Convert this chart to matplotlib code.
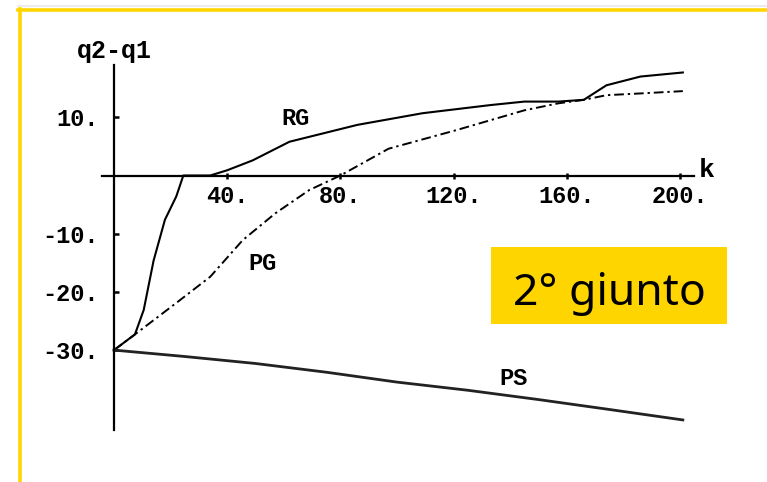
"""q2-q1 versus k for the RG, PG and PS schemes (2nd joint)"""

import matplotlib

matplotlib.use("Agg")
from matplotlib import pyplot as plt
from matplotlib.patches import Rectangle
from matplotlib.lines import Line2D

# curve samples: k -> q2-q1
k_rg = [0, 7.4, 10.5, 14, 18, 22, 24.5, 34, 40, 49, 62, 86, 109, 133, 145, 157, 166, 174, 186, 201]
q_rg = [-30, -27.3, -23.1, -14.6, -7.6, -3.6, 0, 0, 0.9, 2.6, 5.8, 8.7, 10.7, 12.1, 12.7, 12.7, 13.0, 15.5, 17.0, 17.7]

k_pg = [0, 7.4, 22, 34, 45.5, 57, 69, 80, 97, 121, 145, 157, 166, 174, 186, 201]
q_pg = [-30, -27.3, -21.9, -17.4, -11.1, -6.5, -2.5, 0, 4.6, 7.8, 11.2, 12.4, 13.0, 13.8, 14.1, 14.5]

k_ps = [0, 25, 50, 75, 100, 125, 150, 175, 201]
q_ps = [-30, -31.1, -32.3, -33.8, -35.5, -36.9, -38.5, -40.2, -42.0]

x_ticks = [40, 80, 120, 160, 200]
y_ticks = [10, -10, -20, -30]

curve_labels = ["RG", "PG", "PS"]
label_pos = [(64, 9.8), (52.5, -15.1), (141, -34.8)]

W, H = 767, 482
YELLOW = "#ffd500"
MONO = "Liberation Mono"

fig = plt.figure(figsize=(W / 100, H / 100), dpi=100)
ax = fig.add_axes([0, 0, 1, 1])
ax.patch.set_alpha(0)

# pixel origin of the plot and scale (px per unit)
x0, y0, sx, sy = 114, 175.5, 2.83, 5.82
ax.set_xlim(-x0 / sx, (W - x0) / sx)
ax.set_ylim(-(H - y0) / sy, y0 / sy)

ax.plot(k_rg, q_rg, color="black", lw=1.5, solid_joinstyle="round")
ax.plot(k_pg, q_pg, color="black", lw=1.4, linestyle=(0, (5, 2, 1.2, 2)))
ax.plot(k_ps, q_ps, color="#222222", lw=2.0)

for text, (kx, qy) in zip(curve_labels, label_pos):
    ax.text(kx, qy, text, family=MONO, weight="bold", fontsize=17,
            ha="center", va="center")

# axes through the origin
for side in ("top", "right"):
    ax.spines[side].set_visible(False)
ax.spines["left"].set_position(("data", 0))
ax.spines["bottom"].set_position(("data", 0))
ax.spines["left"].set_bounds(-43.7, 19)
ax.spines["bottom"].set_bounds(-4.2, 205)
for side in ("left", "bottom"):
    ax.spines[side].set_linewidth(1.6)

ax.set_xticks(x_ticks)
ax.set_yticks(y_ticks)
ax.set_xticklabels([f"{v}." for v in x_ticks])
ax.set_yticklabels([f"{v}." for v in y_ticks])
ax.tick_params(axis="x", direction="inout", length=5, width=1.8, pad=4)
ax.tick_params(axis="y", direction="in", length=3.5, width=1.8, pad=11)
for lab in ax.get_xticklabels() + ax.get_yticklabels():
    lab.set_family(MONO)
    lab.set_weight("bold")
    lab.set_fontsize(17)

ax.text(209.5, 0.9, "k", family=MONO, weight="bold", fontsize=19,
        ha="center", va="center")
ax.text(0, 21.4, "q2-q1", family=MONO, weight="bold", fontsize=18,
        ha="center", va="center")

# frame lines and caption box, in pixel units of the figure
px = lambda x, y: (x / W, 1 - y / H)
fig.add_artist(Line2D([18 / W, 1], [1 - 10 / H] * 2, color=YELLOW, lw=2.6))
fig.add_artist(Line2D([20 / W] * 2, [0, 1 - 8.5 / H], color=YELLOW, lw=2.6))
fig.add_artist(Line2D([18 / W, 1], [1 - 6 / H] * 2, color="#ececec", lw=1.5, zorder=0))

bx, by = px(491, 324)
fig.add_artist(Rectangle((bx, by), 236 / W, 77 / H, transform=fig.transFigure,
                         facecolor=YELLOW, edgecolor="none"))
tx, ty = px(609.5, 305)
fig.text(tx, ty, "2° giunto", family="Noto Sans", fontsize=32,
         ha="center", va="baseline", color="black")

fig.savefig("out.png", dpi=100)
